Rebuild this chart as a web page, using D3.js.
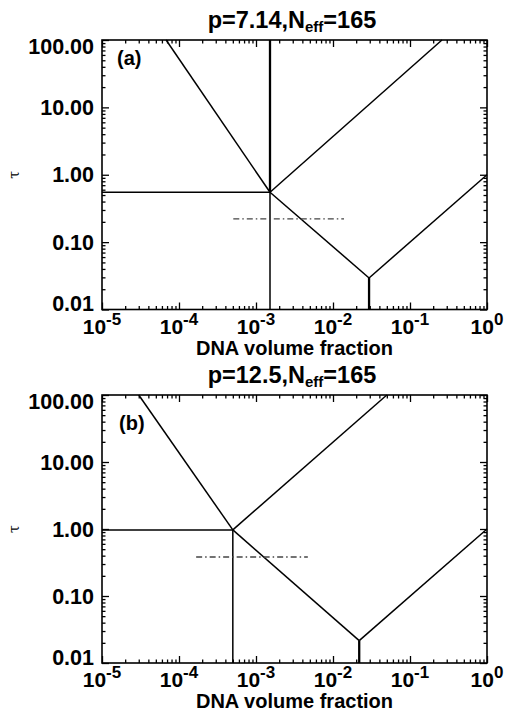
<!DOCTYPE html>
<html>
<head>
<meta charset="utf-8">
<script src="https://cdn.jsdelivr.net/npm/d3@7/dist/d3.min.js"></script>
<style>
  html, body { margin: 0; padding: 0; background: #fff; }
  svg { display: block; }
  text { font-family: "Liberation Sans", Arial, Helvetica, sans-serif; fill: #000; }
</style>
</head>
<body>
<div id="chart"></div>
<script>
// Axis ticks shared by both panels
const xTickVals = [1e-5, 1e-4, 1e-3, 1e-2, 1e-1, 1];
const xTickExps = ["-5", "-4", "-3", "-2", "-1", "0"];
const yTickVals = [0.01, 0.1, 1, 10, 100];
const yTickLabels = ["0.01", "0.10", "1.00", "10.00", "100.00"];

// Panel headings
const panelTags = ["(a)", "(b)"];
const panelP = ["7.14", "12.5"];
const panelNeff = ["165", "165"];

// Panel (a): phase boundaries as [volume fraction, tau] segments
const aLeftBranch  = [[6.8e-5, 100], [1.52e-3, 0.55]];
const aUpperRight  = [[1.52e-3, 0.55], [0.26, 100]];
const aPlateau     = [[1e-5, 0.55], [1.52e-3, 0.55]];
const aLowerDiag   = [[1.52e-3, 0.55], [0.0294, 0.0294]];
const aRightBranch = [[0.0294, 0.0294], [1, 1]];
const aVertUpper   = [[1.52e-3, 100], [1.52e-3, 0.55]];
const aVertLower   = [[1.52e-3, 0.55], [1.52e-3, 0.01]];
const aMinDrop     = [[0.0294, 0.0294], [0.0294, 0.01]];
const aDashDot     = [[5.07e-4, 0.221], [0.0139, 0.221]];

// Panel (b)
const bLeftBranch  = [[3.0e-5, 100], [5.0e-4, 0.97]];
const bUpperRight  = [[5.0e-4, 0.97], [0.05, 100]];
const bPlateau     = [[1e-5, 0.97], [5.0e-4, 0.97]];
const bLowerDiag   = [[5.0e-4, 0.97], [0.0219, 0.0216]];
const bRightBranch = [[0.0219, 0.0216], [1, 1]];
const bVertLower   = [[5.0e-4, 0.97], [5.0e-4, 0.01]];
const bMinDrop     = [[0.0219, 0.0216], [0.0219, 0.01]];
const bDashDot     = [[1.67e-4, 0.382], [4.71e-3, 0.382]];

const W = 506, H = 711;
const svg = d3.select("#chart").append("svg").attr("width", W).attr("height", H);

const panels = [
  {
    tag: panelTags[0], p: panelP[0], neff: panelNeff[0],
    top: 40, bottom: 309.5, titleY: 28, xLabY: 334, axisTitleY: 355, tagY: 65, tagX: 117,
    solid: [aLeftBranch, aUpperRight, aPlateau, aLowerDiag, aRightBranch, aVertLower],
    thick: [aVertUpper, aMinDrop],
    dash: [aDashDot]
  },
  {
    tag: panelTags[1], p: panelP[1], neff: panelNeff[1],
    top: 395, bottom: 663, titleY: 383, xLabY: 687, axisTitleY: 708, tagY: 430, tagX: 119,
    solid: [bLeftBranch, bUpperRight, bPlateau, bLowerDiag, bRightBranch, bVertLower],
    thick: [bMinDrop],
    dash: [bDashDot]
  }
];

const left = 102, right = 487;

function minorTicks(domain) {
  const out = [];
  const lo = Math.round(Math.log10(domain[0])), hi = Math.round(Math.log10(domain[1]));
  for (let d = lo; d < hi; d++) for (let k = 2; k <= 9; k++) out.push(k * Math.pow(10, d));
  return out;
}

panels.forEach(pn => {
  const x = d3.scaleLog().domain([1e-5, 1]).range([left, right]);
  const y = d3.scaleLog().domain([0.01, 100]).range([pn.bottom, pn.top]);
  const g = svg.append("g");
  const line = d3.line().x(d => x(d[0])).y(d => y(d[1]));

  // Ticks on all four sides, pointing inward
  const xMinor = minorTicks(x.domain()), yMinor = minorTicks(y.domain());
  const tickAxes = [
    [d3.axisBottom(x), `translate(0,${pn.bottom})`, xTickVals, xMinor],
    [d3.axisTop(x), `translate(0,${pn.top})`, xTickVals, xMinor],
    [d3.axisLeft(y), `translate(${left},0)`, yTickVals, yMinor],
    [d3.axisRight(y), `translate(${right},0)`, yTickVals, yMinor]
  ];
  tickAxes.forEach(([ax, tr, major, minor]) => {
    [[major, -7], [minor, -3.5]].forEach(([vals, len]) => {
      const a = g.append("g").attr("transform", tr)
        .call(ax.tickValues(vals).tickSize(len).tickFormat(() => ""));
      a.select(".domain").remove();
      a.selectAll("line").attr("stroke", "#000").attr("stroke-width", 1.3);
      a.selectAll("text").remove();
    });
  });

  // Frame
  g.append("rect").attr("x", left).attr("y", pn.top)
    .attr("width", right - left).attr("height", pn.bottom - pn.top)
    .attr("fill", "none").attr("stroke", "#000").attr("stroke-width", 1.6);

  // Boundaries
  pn.solid.forEach(seg => g.append("path").attr("d", line(seg))
    .attr("fill", "none").attr("stroke", "#000").attr("stroke-width", 1.5));
  pn.thick.forEach(seg => g.append("path").attr("d", line(seg))
    .attr("fill", "none").attr("stroke", "#000").attr("stroke-width", 2.3));
  pn.dash.forEach(seg => g.append("path").attr("d", line(seg))
    .attr("fill", "none").attr("stroke", "#444").attr("stroke-width", 1.4)
    .attr("stroke-dasharray", "6,3,1.5,3"));

  // Y tick labels; the end labels sit inside the frame's height
  yTickVals.forEach((v, i) => {
    let yy = y(v);
    if (i === 0) yy -= 6;
    if (i === yTickVals.length - 1) yy += 6;
    g.append("text").attr("x", 94).attr("y", yy).attr("dy", "0.36em")
      .attr("text-anchor", "end").attr("font-size", 21.5).attr("font-weight", "bold")
      .text(yTickLabels[i]);
  });

  // X tick labels as powers of ten
  xTickVals.forEach((v, i) => {
    const t = g.append("text").attr("x", x(v)).attr("y", pn.xLabY)
      .attr("text-anchor", "middle").attr("font-size", 21).attr("font-weight", "bold");
    t.append("tspan").text("10");
    t.append("tspan").attr("dy", -9).attr("font-size", 17).text(xTickExps[i]);
  });

  // Axis titles
  g.append("text").attr("x", (left + right) / 2).attr("y", pn.axisTitleY)
    .attr("text-anchor", "middle").attr("font-size", 20).attr("font-weight", "bold")
    .text("DNA volume fraction");
  g.append("text").attr("transform", `translate(19,${(pn.top + pn.bottom) / 2}) rotate(-90)`)
    .attr("text-anchor", "middle").attr("font-size", 14)
    .style("font-family", "'DejaVu Serif', serif").text("τ");

  // Panel title
  const title = g.append("text").attr("x", 292).attr("y", pn.titleY)
    .attr("text-anchor", "middle").attr("font-size", 23.5).attr("font-weight", "bold");
  title.append("tspan").text(`p=${pn.p},N`);
  title.append("tspan").attr("dy", 4).attr("font-size", 15).text("eff");
  title.append("tspan").attr("dy", -4).text(`=${pn.neff}`);

  // Panel tag
  g.append("text").attr("x", pn.tagX).attr("y", pn.tagY)
    .attr("font-size", 20).attr("font-weight", "bold").text(pn.tag);
});
</script>
</body>
</html>
